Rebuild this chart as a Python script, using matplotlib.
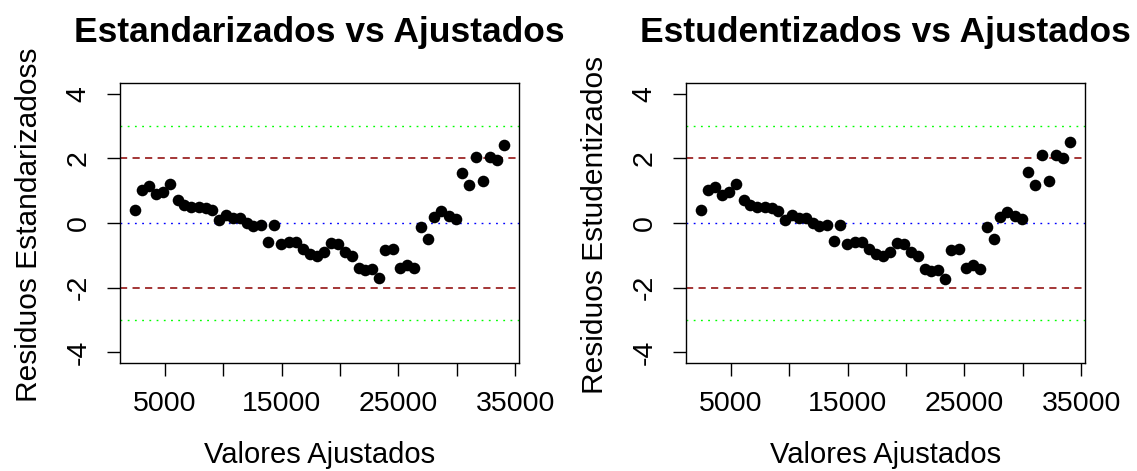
import matplotlib
matplotlib.use("Agg")
import matplotlib.pyplot as plt

plt.rcParams["font.family"] = ["Liberation Sans", "DejaVu Sans"]

# valores ajustados (eixo x)
ajustados = [2439, 3065, 3691, 4260, 4858, 5455, 6110, 6679, 7276, 7903,
             8500, 9070, 9610, 10236, 10891, 11460, 12029, 12598, 13225, 13822,
             14391, 14989, 15615, 16212, 16810, 17436, 18005, 18603, 19200, 19798,
             20424, 20993, 21590, 22188, 22786, 23355, 23896, 24550, 25120, 25746,
             26343, 26912, 27538, 28051, 28677, 29331, 29900, 30469, 31067, 31664,
             32262, 32860, 33457, 34083]

estandarizados = [0.41, 1.03, 1.13, 0.91, 0.95, 1.21, 0.72, 0.56, 0.51, 0.49,
                  0.46, 0.39, 0.10, 0.26, 0.15, 0.15, 0.00, -0.08, -0.05, -0.58,
                  -0.07, -0.66, -0.60, -0.60, -0.80, -0.97, -1.01, -0.91, -0.62, -0.64,
                  -0.91, -1.03, -1.40, -1.44, -1.42, -1.70, -0.84, -0.79, -1.38, -1.30,
                  -1.40, -0.13, -0.49, 0.19, 0.36, 0.21, 0.13, 1.54, 1.17, 2.03,
                  1.29, 2.03, 1.94, 2.40]

estudentizados = [0.41, 1.03, 1.11, 0.88, 0.95, 1.22, 0.72, 0.55, 0.51, 0.49,
                  0.46, 0.38, 0.10, 0.26, 0.15, 0.15, 0.00, -0.10, -0.06, -0.57,
                  -0.07, -0.66, -0.60, -0.60, -0.80, -0.97, -1.01, -0.91, -0.61, -0.64,
                  -0.91, -1.03, -1.42, -1.47, -1.45, -1.73, -0.84, -0.79, -1.39, -1.31,
                  -1.42, -0.13, -0.48, 0.19, 0.35, 0.21, 0.13, 1.57, 1.18, 2.10,
                  1.30, 2.10, 2.00, 2.51]

x_ticks = [5000, 10000, 15000, 20000, 25000, 30000, 35000]
x_ticklabels = ["5000", "", "15000", "", "25000", "", "35000"]
y_ticks = [-4, -2, 0, 2, 4]

# titulo, rotulo y, residuos, posicao esquerda do eixo, posicao x do rotulo y
paineis = [
    ("Estandarizados vs Ajustados", "Residuos Estandarizadoss", estandarizados, 0.1055, 0.0255),
    ("Estudentizados vs Ajustados", "Residuos Estudentizados", estudentizados, 0.6033, 0.523),
]

fig = plt.figure(figsize=(11.37, 4.71), dpi=100)

for titulo, rotulo_y, residuos, esquerda, x_rotulo in paineis:
    ax = fig.add_axes([esquerda, 0.2299, 0.3512, 0.5932])

    faixa = max(ajustados) - min(ajustados)
    ax.set_xlim(min(ajustados) - 0.04 * faixa, max(ajustados) + 0.04 * faixa)
    ax.set_ylim(-4.32, 4.32)

    ax.axhline(0, color="blue", lw=1, ls=(0, (1.3, 3.9)), zorder=1)
    for nivel in (2, -2):
        ax.axhline(nivel, color="#8b0000", lw=1.1, ls=(0, (4.7, 3.5)), zorder=1)
    for nivel in (3, -3):
        ax.axhline(nivel, color="#00ff00", lw=1, ls=(0, (1.3, 3.9)), zorder=1)

    ax.scatter(ajustados, residuos, s=70, color="black", linewidths=0, zorder=3)

    ax.set_xticks(x_ticks)
    ax.set_xticklabels(x_ticklabels)
    ax.set_yticks(y_ticks)
    ax.set_yticklabels([str(v) for v in y_ticks], rotation=90, va="center")
    ax.tick_params(axis="both", labelsize=20.5, length=9.4, width=1, pad=11)
    for spine in ax.spines.values():
        spine.set_linewidth(1)

    ax.set_title(titulo, fontsize=25.5, fontweight="bold", pad=30)

    centro = esquerda + 0.3512 / 2
    fig.text(centro, 0.034, "Valores Ajustados", ha="center", va="center", fontsize=21)
    fig.text(x_rotulo, 0.522, rotulo_y, ha="center", va="center",
             rotation=90, fontsize=21.5)

fig.savefig("out.png", dpi=100)
